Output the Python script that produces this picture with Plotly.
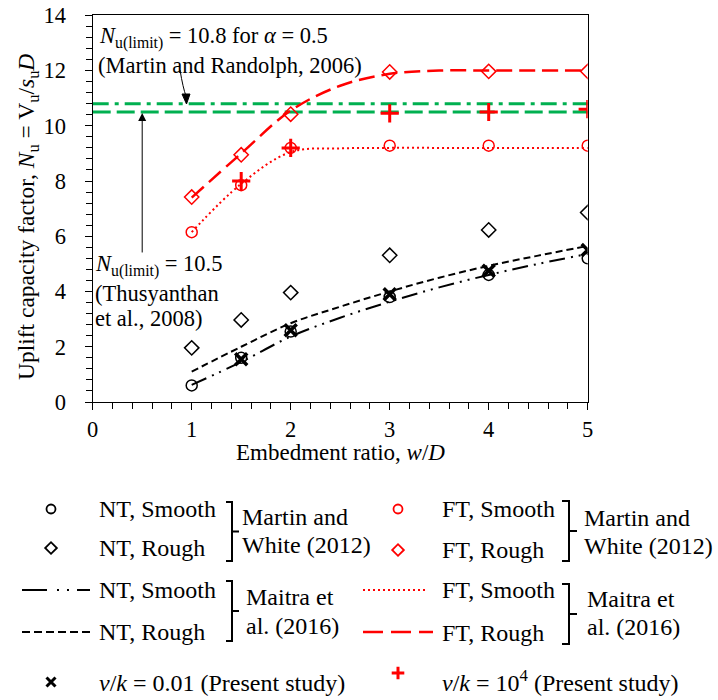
import plotly.graph_objects as go

# ---------------- data ----------------
mw_x = [1, 1.5, 2, 3, 4, 5]
mw_nt_smooth = [0.6, 1.6, 2.55, 3.8, 4.6, 5.2]
mw_nt_rough = [1.96, 2.97, 3.96, 5.31, 6.23, 6.86]
mw_ft_smooth = [6.15, 7.85, 9.2, 9.28, 9.28, 9.28]
mw_ft_rough = [7.42, 8.95, 10.42, 11.95, 11.97, 11.97]

ma_x = [1, 1.5, 2, 2.5, 3, 3.5, 4, 4.5, 5]
ma_nt_smooth = [0.62, 1.45, 2.37, 3.05, 3.63, 4.15, 4.6, 5.0, 5.36]
ma_nt_rough = [1.1, 2.0, 2.85, 3.45, 4.0, 4.5, 4.93, 5.3, 5.65]
ma_ft_smooth = [6.15, 7.9, 9.05, 9.18, 9.2, 9.2, 9.2, 9.2, 9.2]
ma_ft_rough = [7.4, 9.0, 10.55, 11.45, 11.88, 12.0, 12.0, 12.0, 12.0]

ps_x = [1.5, 2, 3, 4, 5]
ps_low = [1.55, 2.6, 3.9, 4.75, 5.5]      # v/k = 0.01
ps_high = [8.0, 9.2, 10.45, 10.5, 10.6]   # v/k = 1e4

limit_x = [0, 5]
limit_mr = 10.8   # Martin and Randolph (2006)
limit_th = 10.5   # Thusyanthan et al. (2008)

FONT = "Liberation Serif, Times New Roman, serif"
W, H = 718, 700
RED = "#ff0000"
GREEN = "#00b050"


def PX(x):
    return x / W


def PY(y):
    return 1 - y / H


fig = go.Figure()

# ---------- main plot traces ----------
fig.add_trace(go.Scatter(x=limit_x, y=[limit_mr, limit_mr], mode="lines",
                         line=dict(color=GREEN, width=3, dash="16px,6px,4px,6px")))
fig.add_trace(go.Scatter(x=limit_x, y=[limit_th, limit_th], mode="lines",
                         line=dict(color=GREEN, width=3, dash="18px,6px")))

fig.add_trace(go.Scatter(x=ma_x, y=ma_nt_smooth, mode="lines", line_shape="spline",
                         line=dict(color="black", width=2, dash="16px,6px,2px,6px,2px,6px")))
fig.add_trace(go.Scatter(x=ma_x, y=ma_nt_rough, mode="lines", line_shape="spline",
                         line=dict(color="black", width=2, dash="7px,4px")))
fig.add_trace(go.Scatter(x=ma_x, y=ma_ft_smooth, mode="lines", line_shape="spline",
                         line=dict(color=RED, width=2, dash="2px,3px")))
fig.add_trace(go.Scatter(x=ma_x, y=ma_ft_rough, mode="lines", line_shape="spline",
                         line=dict(color=RED, width=2.5, dash="16px,7px")))

fig.add_trace(go.Scatter(x=mw_x, y=mw_nt_smooth, mode="markers",
                         marker=dict(symbol="circle-open", size=11, color="black", line=dict(width=1.5))))
fig.add_trace(go.Scatter(x=mw_x, y=mw_nt_rough, mode="markers",
                         marker=dict(symbol="diamond-open", size=11, color="black", line=dict(width=1.5))))
fig.add_trace(go.Scatter(x=mw_x, y=mw_ft_smooth, mode="markers",
                         marker=dict(symbol="circle-open", size=11, color=RED, line=dict(width=1.5))))
fig.add_trace(go.Scatter(x=mw_x, y=mw_ft_rough, mode="markers",
                         marker=dict(symbol="diamond-open", size=11, color=RED, line=dict(width=1.5))))
fig.add_trace(go.Scatter(x=ps_x, y=ps_low, mode="markers",
                         marker=dict(symbol="x-thin", size=12, color="black", line=dict(width=3.5, color="black"))))
fig.add_trace(go.Scatter(x=ps_x, y=ps_high, mode="markers",
                         marker=dict(symbol="cross-thin", size=13, color=RED, line=dict(width=3, color=RED))))

# ---------- legend (drawn on a pixel-coordinate helper axis) ----------
LX = dict(xaxis="x2", yaxis="y2", hoverinfo="skip")
leg_markers = [
    (51, 509, "circle-open", 9, "black", 1.8),
    (51, 548, "diamond-open", 9, "black", 1.8),
    (398, 509, "circle-open", 9, RED, 1.8),
    (398, 550, "diamond-open", 9, RED, 1.8),
]
for x, y, sym, sz, col, lw in leg_markers:
    fig.add_trace(go.Scatter(x=[x], y=[y], mode="markers",
                             marker=dict(symbol=sym, size=sz, color=col, line=dict(width=lw, color=col)), **LX))
fig.add_trace(go.Scatter(x=[51], y=[682], mode="markers",
                         marker=dict(symbol="x-thin", size=9, color="black", line=dict(width=3, color="black")), **LX))
fig.add_trace(go.Scatter(x=[398], y=[673], mode="markers",
                         marker=dict(symbol="cross-thin", size=9, color=RED, line=dict(width=3, color=RED)), **LX))
fig.add_trace(go.Scatter(x=[22, 90], y=[590, 590], mode="lines",
                         line=dict(color="black", width=2, dash="25px,10px,2px,8px,2px,8px"), **LX))
fig.add_trace(go.Scatter(x=[22, 90], y=[632, 632], mode="lines",
                         line=dict(color="black", width=2, dash="8px,4px"), **LX))
fig.add_trace(go.Scatter(x=[363, 428], y=[590, 590], mode="lines",
                         line=dict(color=RED, width=2, dash="2px,3px"), **LX))
fig.add_trace(go.Scatter(x=[363, 433], y=[632, 632], mode="lines",
                         line=dict(color=RED, width=2.5, dash="20px,8px"), **LX))

annotations = []
DX = -3  # annotation box padding compensation


def txt(x, y, s, size=24, anchor="left"):
    annotations.append(dict(x=PX(x + (DX if anchor == "left" else 0)), y=PY(y), xref="paper", yref="paper",
                            text=s, showarrow=False, xanchor=anchor, yanchor="middle",
                            font=dict(family=FONT, size=size, color="black")))


txt(100, 509, "NT, Smooth")
txt(100, 548, "NT, Rough")
txt(100, 590, "NT, Smooth")
txt(100, 632, "NT, Rough")
txt(100, 683, "<i>v</i>/<i>k</i> = 0.01 (Present study)")
txt(443, 509, "FT, Smooth")
txt(443, 550, "FT, Rough")
txt(443, 590, "FT, Smooth")
txt(443, 633, "FT, Rough")
txt(443, 681, "<i>v</i>/<i>k</i> = 10<sup>4</sup> (Present study)")
txt(243, 517, "Martin and")
txt(243, 545, "White (2012)")
txt(247, 597, "Maitra et")
txt(247, 626, "al. (2016)")
txt(585, 518, "Martin and")
txt(585, 546, "White (2012)")
txt(588, 599, "Maitra et")
txt(588, 627, "al. (2016)")

# annotations inside plot
txt(100, 38, "<i>N</i><sub>u(limit)</sub> = 10.8 for <i>α</i> = 0.5", size=22.5)
txt(99, 65, "(Martin and Randolph, 2006)", size=22.5)
txt(96, 265, "<i>N</i><sub>u(limit)</sub> = 10.5", size=22.5)
txt(96, 293, "(Thusyanthan", size=22.5)
txt(96, 318, "et al., 2008)", size=22.5)

# axis titles
txt(340, 452, "Embedment ratio, <i>w</i>/<i>D</i>", size=23, anchor="center")
annotations.append(dict(x=PX(28), y=PY(217), xref="paper", yref="paper", showarrow=False, textangle=-90,
                        text="Uplift capacity factor, <i>N</i><sub>u</sub> = V<sub>u</sub>/<i>s</i><sub>u</sub><i>D</i>",
                        xanchor="center", yanchor="middle", font=dict(family=FONT, size=23.5, color="black")))

# vertical arrow to the 10.5 line
annotations.append(dict(x=0.5, y=limit_th, xref="x", yref="y", ax=0, ay=142, axref="pixel", ayref="pixel",
                        text="", showarrow=True, arrowhead=2, arrowsize=1.6, arrowwidth=1, arrowcolor="black",
                        standoff=1))

shapes = []


def bracket(x0, xv, xt, ytop, ybot):
    ymid = (ytop + ybot) / 2
    path = (f"M {PX(x0)},{PY(ytop)} L {PX(xv)},{PY(ytop)} L {PX(xv)},{PY(ybot)} L {PX(x0)},{PY(ybot)} "
            f"M {PX(xv)},{PY(ymid)} L {PX(xt)},{PY(ymid)}")
    shapes.append(dict(type="path", xref="paper", yref="paper", path=path,
                       line=dict(color="black", width=2)))


bracket(226, 232, 239, 502, 561)
bracket(226, 232, 239, 581, 641)
bracket(562, 569, 577, 501, 561)
bracket(562, 569, 577, 584, 644)

# curved arrow to the 10.8 line
shapes.append(dict(type="path", xref="paper", yref="paper",
                   path=f"M {PX(180)},{PY(70)} Q {PX(183)},{PY(88)} {PX(186)},{PY(96)}",
                   line=dict(color="black", width=1)))
shapes.append(dict(type="path", xref="paper", yref="paper",
                   path=f"M {PX(182)},{PY(94)} L {PX(190)},{PY(94)} L {PX(186.5)},{PY(104)} Z",
                   fillcolor="black", line=dict(color="black", width=1)))

axis_common = dict(showline=True, linecolor="black", linewidth=1.3, mirror=True, ticks="outside",
                   tickcolor="black", ticklen=7, tickwidth=1.3, showgrid=False, zeroline=False,
                   automargin=False, tickfont=dict(family=FONT, size=22.5, color="black"))

fig.update_layout(
    template="none",
    width=W, height=H, margin=dict(l=0, r=0, t=0, b=0, autoexpand=False),
    paper_bgcolor="white", plot_bgcolor="rgba(0,0,0,0)", showlegend=False,
    xaxis=dict(domain=[PX(92.7), PX(587.7)], range=[0, 5], dtick=1, tick0=0, ticklabelstandoff=0,
               minor=dict(dtick=0.2, ticks="outside", ticklen=6, tickcolor="black", tickwidth=1.3),
               **axis_common),
    yaxis=dict(domain=[PY(402), PY(15.3)], range=[0, 14], dtick=2, tick0=0, ticklabelstandoff=14,
               minor=dict(dtick=0.4, ticks="outside", ticklen=6, tickcolor="black", tickwidth=1.3),
               **axis_common),
    xaxis2=dict(domain=[0, 1], range=[0, W], visible=False, anchor="y2", automargin=False),
    yaxis2=dict(domain=[0, 1], range=[H, 0], visible=False, anchor="x2", automargin=False),
    annotations=annotations, shapes=shapes,
)

fig.write_html("out.html")
